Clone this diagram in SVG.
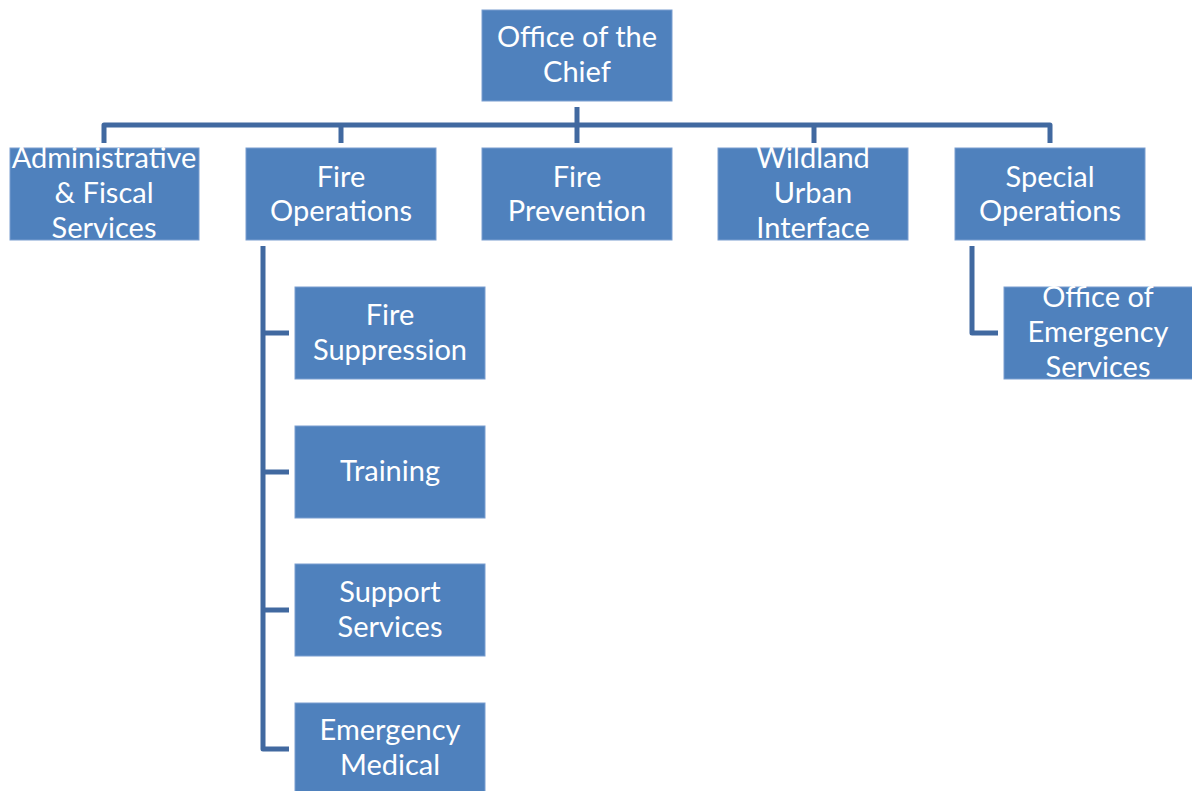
<svg xmlns="http://www.w3.org/2000/svg" width="1192" height="791" viewBox="0 0 1192 791">
  <style>
    .box { fill: #4f81bd; stroke: #7a9ed0; stroke-width: 1; }
    .lbl { fill: #ffffff; font-family: Lato, "Open Sans", "Liberation Sans", sans-serif; font-size: 29px; text-anchor: middle; }
    .link { fill: none; stroke: #4169a0; stroke-width: 5; stroke-linecap: butt; stroke-linejoin: round; }
  </style>
  <rect width="1192" height="791" fill="#ffffff"/>

  <!-- connectors -->
  <g id="connectors">
    <path class="link" d="M104,143 V125 H1050 V143"/>
    <path class="link" d="M577,107 V143"/>
    <path class="link" d="M341,125 V143"/>
    <path class="link" d="M814,125 V143"/>
    <path class="link" d="M263,246 V749 H289"/>
    <path class="link" d="M263,333 H289"/>
    <path class="link" d="M263,472 H289"/>
    <path class="link" d="M263,610 H289"/>
    <path class="link" d="M972,246 V333 H998"/>
  </g>

  <g id="chief">
    <rect class="box" x="482" y="10" width="190" height="91"/>
    <text class="lbl" x="577" y="47">Office of the</text>
    <text class="lbl" x="577" y="82">Chief</text>
  </g>

  <g id="admin">
    <rect class="box" x="10" y="148" width="189" height="92"/>
    <text class="lbl" x="104" y="168">Administrative</text>
    <text class="lbl" x="104" y="203">&amp; Fiscal</text>
    <text class="lbl" x="104" y="238">Services</text>
  </g>

  <g id="fire-operations">
    <rect class="box" x="246" y="148" width="190" height="92"/>
    <text class="lbl" x="341" y="187">Fire</text>
    <text class="lbl" x="341" y="221">Operations</text>
  </g>

  <g id="fire-prevention">
    <rect class="box" x="482" y="148" width="190" height="92"/>
    <text class="lbl" x="577" y="187">Fire</text>
    <text class="lbl" x="577" y="221">Prevention</text>
  </g>

  <g id="wildland">
    <rect class="box" x="718" y="148" width="190" height="92"/>
    <text class="lbl" x="813" y="168">Wildland</text>
    <text class="lbl" x="813" y="203">Urban</text>
    <text class="lbl" x="813" y="238">Interface</text>
  </g>

  <g id="special-operations">
    <rect class="box" x="955" y="148" width="190" height="92"/>
    <text class="lbl" x="1050" y="187">Special</text>
    <text class="lbl" x="1050" y="221">Operations</text>
  </g>

  <g id="fire-suppression">
    <rect class="box" x="295" y="287" width="190" height="92"/>
    <text class="lbl" x="390" y="325">Fire</text>
    <text class="lbl" x="390" y="360">Suppression</text>
  </g>

  <g id="training">
    <rect class="box" x="295" y="426" width="190" height="92"/>
    <text class="lbl" x="390" y="481">Training</text>
  </g>

  <g id="support-services">
    <rect class="box" x="295" y="564" width="190" height="92"/>
    <text class="lbl" x="390" y="602">Support</text>
    <text class="lbl" x="390" y="637">Services</text>
  </g>

  <g id="emergency-medical">
    <rect class="box" x="295" y="703" width="190" height="92"/>
    <text class="lbl" x="390" y="740">Emergency</text>
    <text class="lbl" x="390" y="775">Medical</text>
  </g>

  <g id="emergency-services">
    <rect class="box" x="1004" y="287" width="192" height="92"/>
    <text class="lbl" x="1098" y="307">Office of</text>
    <text class="lbl" x="1098" y="342">Emergency</text>
    <text class="lbl" x="1098" y="377">Services</text>
  </g>
</svg>
